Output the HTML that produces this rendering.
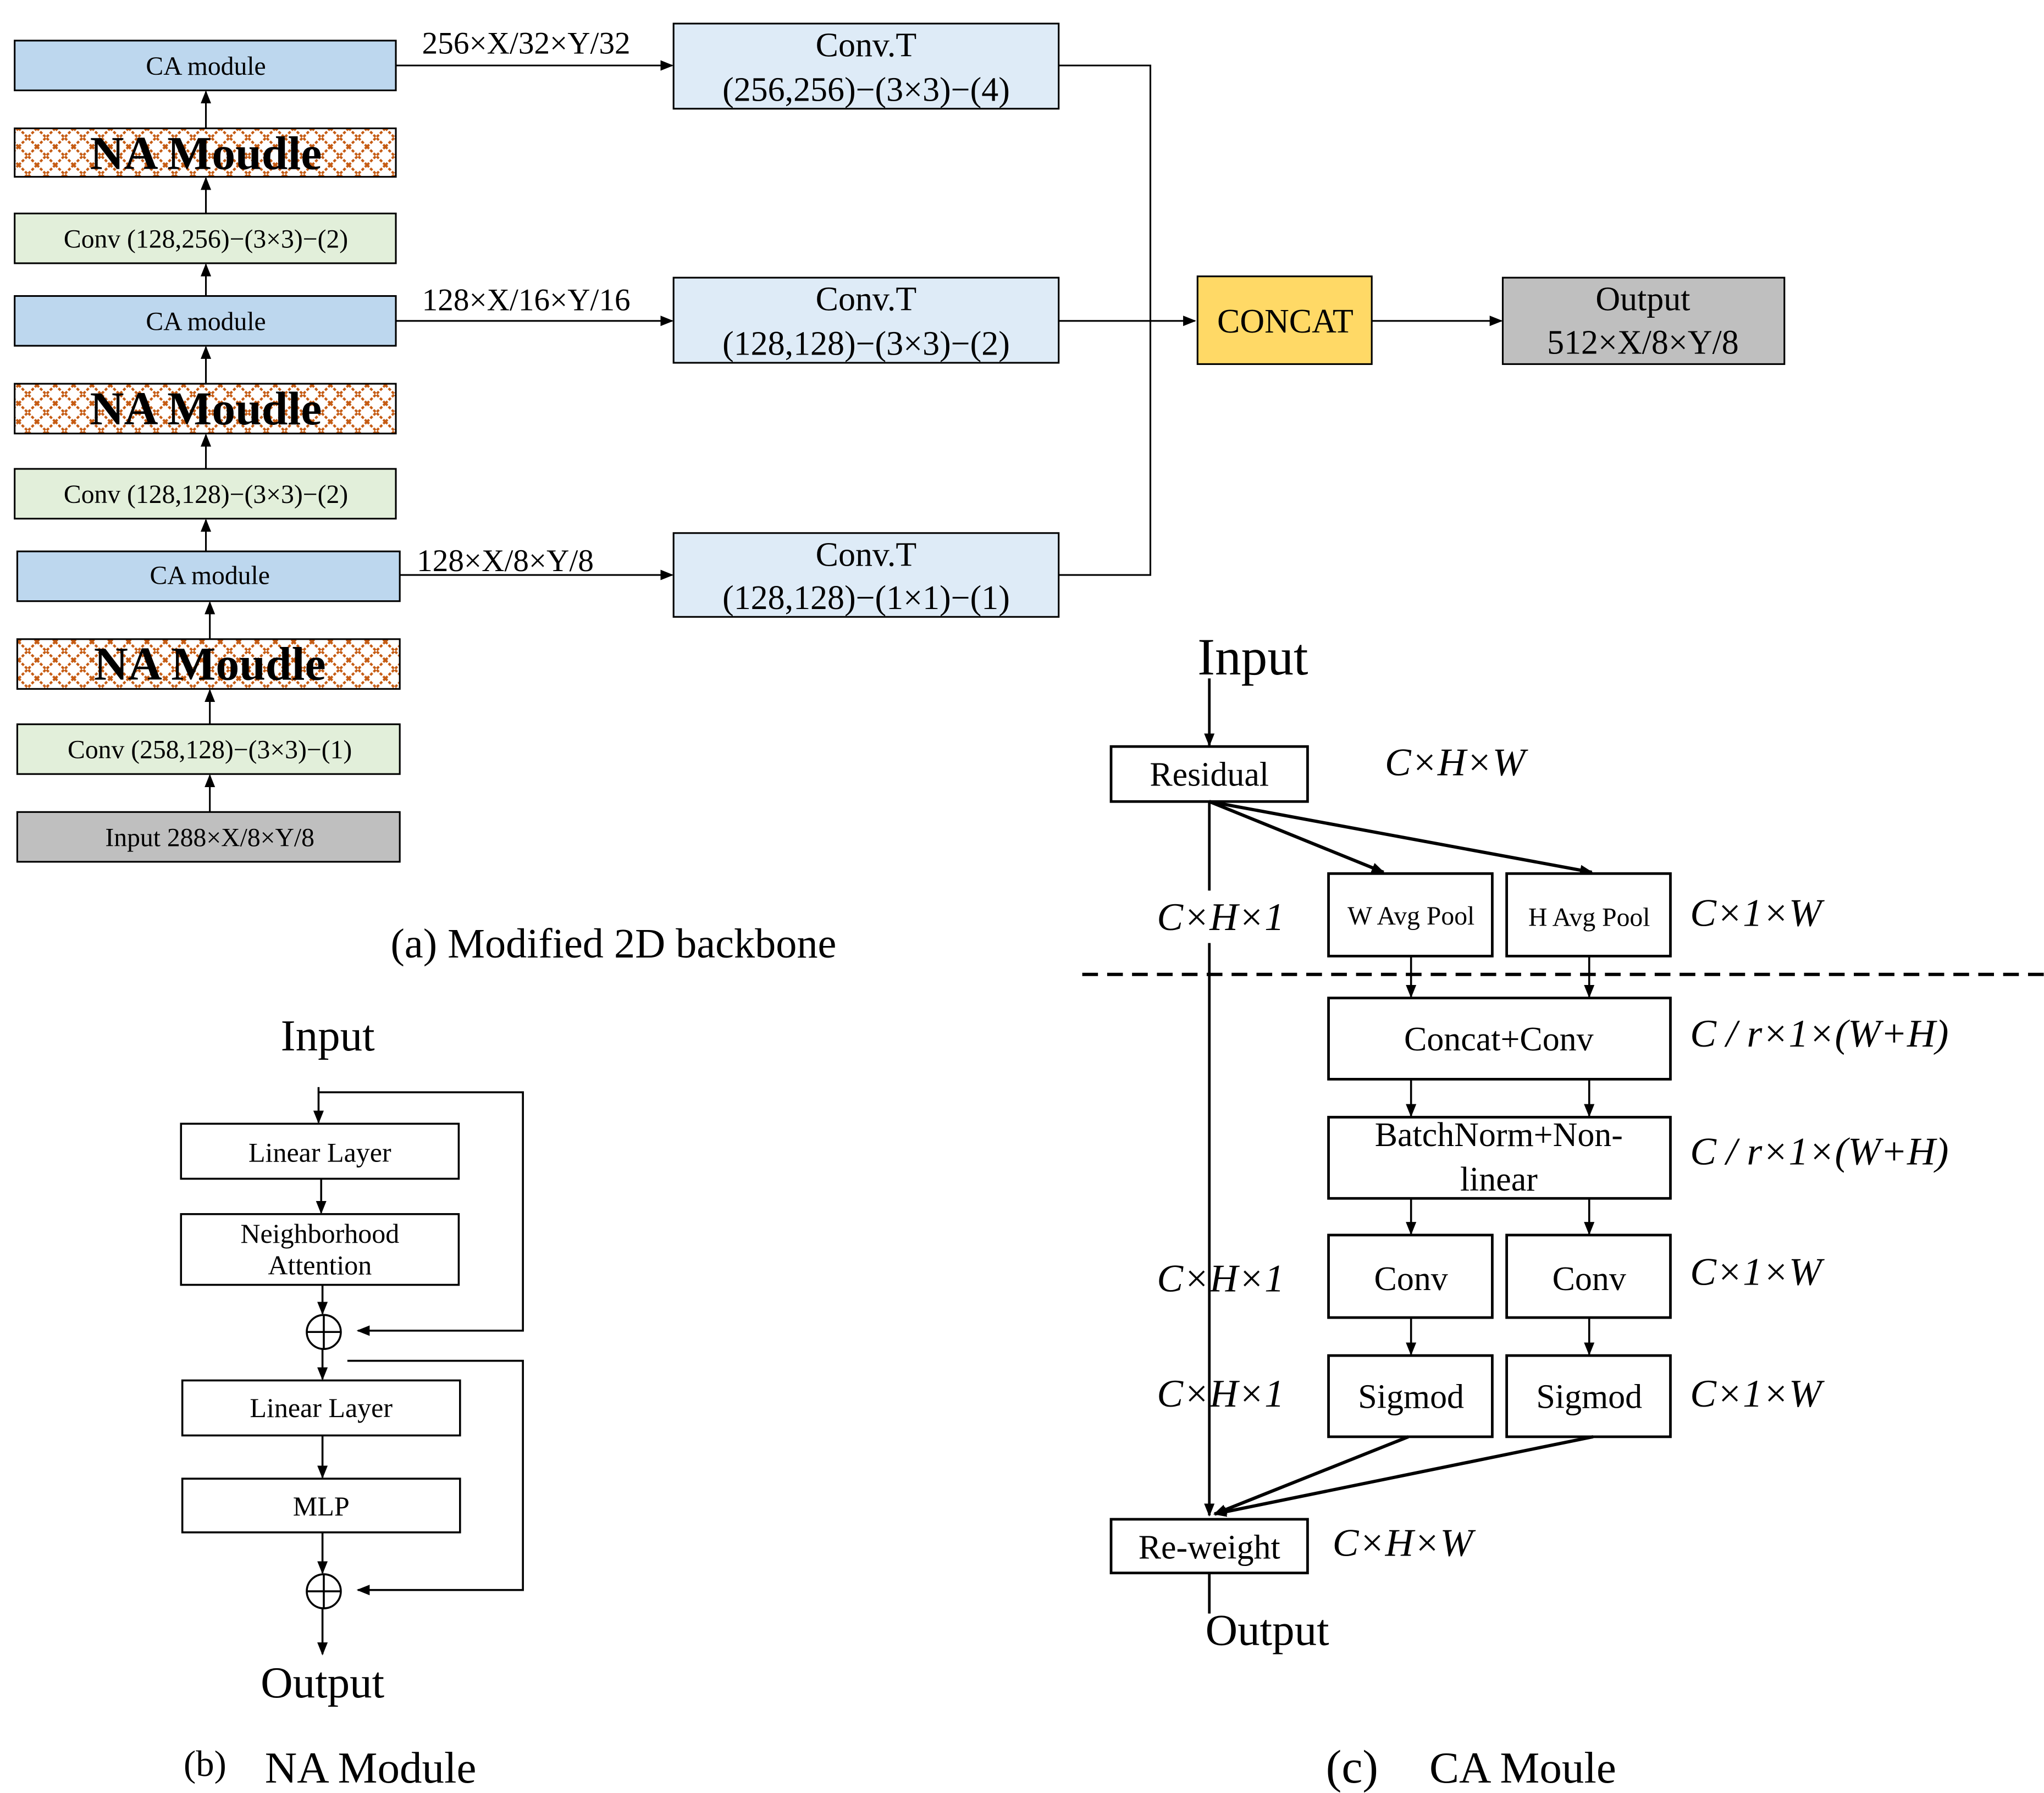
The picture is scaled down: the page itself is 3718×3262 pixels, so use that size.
<!DOCTYPE html>
<html><head><meta charset="utf-8"><style>html,body{margin:0;padding:0;background:#fff}svg{display:block}</style></head><body>
<svg xmlns="http://www.w3.org/2000/svg" width="3718" height="3262" viewBox="0 0 1560 1369" font-family="Liberation Serif, serif">
<defs>
<pattern id="lat" width="14" height="14" patternUnits="userSpaceOnUse">
<rect width="14" height="14" fill="#fff"/>
<path d="M0 0L14 14M14 0L0 14" stroke="#c55a11" stroke-width="1.8" stroke-dasharray="2.2 1.3"/>
</pattern>
<marker id="a" markerWidth="10" markerHeight="10" refX="9" refY="5" orient="auto" markerUnits="userSpaceOnUse"><path d="M0 1L10 5L0 9z" fill="#000"/></marker>
</defs>
<rect width="1560" height="1369" fill="#fff"/>
<g stroke="#000" stroke-width="1.3">
<rect x="11" y="31" width="291" height="38" fill="#bdd7ee"/>
<rect x="11" y="98" width="291" height="37" fill="url(#lat)"/>
<rect x="11" y="163" width="291" height="38" fill="#e2efda"/>
<rect x="11" y="226" width="291" height="38" fill="#bdd7ee"/>
<rect x="11" y="293" width="291" height="38" fill="url(#lat)"/>
<rect x="11" y="358" width="291" height="38" fill="#e2efda"/>
<rect x="13" y="421" width="292" height="38" fill="#bdd7ee"/>
<rect x="13" y="488" width="292" height="38" fill="url(#lat)"/>
<rect x="13" y="553" width="292" height="38" fill="#e2efda"/>
<rect x="13" y="620" width="292" height="38" fill="#bfbfbf"/>
<g fill="none" marker-end="url(#a)">
<line x1="157" y1="98" x2="157" y2="70"/><line x1="157" y1="163" x2="157" y2="136"/>
<line x1="157" y1="226" x2="157" y2="202"/><line x1="157" y1="293" x2="157" y2="265"/>
<line x1="157" y1="358" x2="157" y2="332"/><line x1="157" y1="421" x2="157" y2="397"/>
<line x1="160" y1="488" x2="160" y2="460"/><line x1="160" y1="553" x2="160" y2="527"/>
<line x1="160" y1="620" x2="160" y2="592"/>
<line x1="302" y1="50" x2="513" y2="50"/><line x1="302" y1="245" x2="513" y2="245"/><line x1="305" y1="439" x2="513" y2="439"/>
<line x1="808" y1="245" x2="912" y2="245"/><line x1="1047" y1="245" x2="1146" y2="245"/>
</g>
<polyline points="808,50 878,50 878,439 808,439" fill="none"/>
<rect x="514" y="18" width="294" height="65" fill="#deebf7"/>
<rect x="514" y="212" width="294" height="65" fill="#deebf7"/>
<rect x="514" y="407" width="294" height="64" fill="#deebf7"/>
<rect x="914" y="211" width="133" height="67" fill="#ffd966"/>
<rect x="1147" y="212" width="215" height="66" fill="#bfbfbf"/>
</g>
<g font-size="20" text-anchor="middle">
<text x="157" y="57">CA module</text><text x="157" y="252">CA module</text><text x="160" y="446">CA module</text>
<text x="157" y="189">Conv (128,256)−(3×3)−(2)</text><text x="157" y="384">Conv (128,128)−(3×3)−(2)</text>
<text x="160" y="579">Conv (258,128)−(3×3)−(1)</text><text x="160" y="646">Input 288×X/8×Y/8</text>
</g>
<g font-size="36" font-weight="bold" text-anchor="middle">
<text x="157" y="129">NA Moudle</text><text x="157" y="324">NA Moudle</text><text x="160" y="519">NA Moudle</text>
</g>
<g font-size="24">
<text x="322" y="41">256×X/32×Y/32</text><text x="322" y="237">128×X/16×Y/16</text><text x="318" y="436">128×X/8×Y/8</text>
</g>
<g font-size="26" text-anchor="middle">
<text x="661" y="43">Conv.T</text><text x="661" y="77">(256,256)−(3×3)−(4)</text>
<text x="661" y="237">Conv.T</text><text x="661" y="271">(128,128)−(3×3)−(2)</text>
<text x="661" y="432">Conv.T</text><text x="661" y="465">(128,128)−(1×1)−(1)</text>
<text x="981" y="254">CONCAT</text>
<text x="1254" y="237">Output</text><text x="1254" y="270">512×X/8×Y/8</text>
</g>
<text x="298" y="731" font-size="32">(a) Modified 2D backbone</text>

<g stroke="#000" stroke-width="1.5" fill="none">
<rect x="138" y="858" width="212" height="42" fill="#fff"/>
<rect x="138" y="927" width="212" height="54" fill="#fff"/>
<rect x="139" y="1054" width="212" height="42" fill="#fff"/>
<rect x="139" y="1129" width="212" height="41" fill="#fff"/>
<circle cx="247" cy="1017" r="13"/><line x1="234" y1="1017" x2="260" y2="1017"/><line x1="247" y1="1004" x2="247" y2="1030"/>
<circle cx="247" cy="1215" r="13"/><line x1="234" y1="1215" x2="260" y2="1215"/><line x1="247" y1="1202" x2="247" y2="1228"/>
<polyline points="243,834 399,834 399,1016 273,1016" marker-end="url(#a)"/>
<polyline points="265,1039 399,1039 399,1214 273,1214" marker-end="url(#a)"/>
<g marker-end="url(#a)">
<line x1="243" y1="830" x2="243" y2="857"/><line x1="245" y1="900" x2="245" y2="926"/>
<line x1="246" y1="981" x2="246" y2="1003"/><line x1="246" y1="1030" x2="246" y2="1053"/>
<line x1="246" y1="1096" x2="246" y2="1128"/><line x1="246" y1="1170" x2="246" y2="1201"/>
<line x1="246" y1="1228" x2="246" y2="1263"/>
</g>
</g>
<g font-size="21" text-anchor="middle">
<text x="244" y="887">Linear Layer</text><text x="244" y="949">Neighborhood</text><text x="244" y="973">Attention</text>
<text x="245" y="1082">Linear Layer</text><text x="245" y="1157">MLP</text>
</g>
<text x="250" y="802" font-size="34" text-anchor="middle">Input</text>
<text x="246" y="1296" font-size="34" text-anchor="middle">Output</text>
<text x="140" y="1356" font-size="28">(b)</text><text x="202" y="1361" font-size="34">NA Module</text>

<g stroke="#000" stroke-width="2" fill="none">
<line x1="923" y1="518" x2="923" y2="569" marker-end="url(#a)"/>
<rect x="848" y="570" width="150" height="42" fill="#fff"/>
<line x1="923" y1="612" x2="1056" y2="666" stroke-width="2.5" marker-end="url(#a)"/>
<line x1="923" y1="612" x2="1215" y2="666" stroke-width="2.5" marker-end="url(#a)"/>
<line x1="923" y1="612" x2="923" y2="680"/><line x1="923" y1="720" x2="923" y2="1157" marker-end="url(#a)"/>
<rect x="1014" y="667" width="125" height="63" fill="#fff"/>
<rect x="1150" y="667" width="125" height="63" fill="#fff"/>
<line x1="826" y1="744" x2="1560" y2="744" stroke-width="2.5" stroke-dasharray="12 7"/>
<rect x="1014" y="762" width="261" height="62" fill="#fff"/>
<rect x="1014" y="853" width="261" height="62" fill="#fff"/>
<rect x="1014" y="943" width="125" height="63" fill="#fff"/>
<rect x="1150" y="943" width="125" height="63" fill="#fff"/>
<rect x="1014" y="1035" width="125" height="62" fill="#fff"/>
<rect x="1150" y="1035" width="125" height="62" fill="#fff"/>
<g stroke-width="1.5" marker-end="url(#a)">
<line x1="1077" y1="730" x2="1077" y2="761"/><line x1="1213" y1="730" x2="1213" y2="761"/>
<line x1="1077" y1="824" x2="1077" y2="852"/><line x1="1213" y1="824" x2="1213" y2="852"/>
<line x1="1077" y1="915" x2="1077" y2="942"/><line x1="1213" y1="915" x2="1213" y2="942"/>
<line x1="1077" y1="1006" x2="1077" y2="1034"/><line x1="1213" y1="1006" x2="1213" y2="1034"/>
</g>
<line x1="1075" y1="1097" x2="927" y2="1156" stroke-width="2.5" marker-end="url(#a)"/>
<line x1="1216" y1="1097" x2="927" y2="1156" stroke-width="2.5" marker-end="url(#a)"/>
<rect x="848" y="1160" width="150" height="41" fill="#fff"/>
<line x1="923" y1="1201" x2="923" y2="1232"/>
</g>
<text x="914" y="515" font-size="40">Input</text>
<g font-size="26" text-anchor="middle">
<text x="923" y="600">Residual</text><text x="1144" y="802">Concat+Conv</text>
<text x="1144" y="875">BatchNorm+Non-</text><text x="1144" y="909">linear</text>
<text x="1077" y="985">Conv</text><text x="1213" y="985">Conv</text>
<text x="1077" y="1075">Sigmod</text><text x="1213" y="1075">Sigmod</text>
<text x="923" y="1190">Re-weight</text>
</g>
<g font-size="20" text-anchor="middle"><text x="1077" y="706">W Avg Pool</text><text x="1213" y="707">H Avg Pool</text></g>
<g font-size="30" font-style="italic">
<text x="1057" y="592">C×H×W</text>
<text x="883" y="710">C×H×1</text><text x="1290" y="707">C×1×W</text>
<text x="1290" y="799">C / r×1×(W+H)</text><text x="1290" y="889">C / r×1×(W+H)</text>
<text x="883" y="986">C×H×1</text><text x="1290" y="981">C×1×W</text>
<text x="883" y="1074">C×H×1</text><text x="1290" y="1074">C×1×W</text>
<text x="1017" y="1188">C×H×W</text>
</g>
<text x="920" y="1256" font-size="34">Output</text>
<text x="1012" y="1361" font-size="36">(c)</text><text x="1091" y="1361" font-size="34">CA Moule</text>
</svg>
</body></html>
